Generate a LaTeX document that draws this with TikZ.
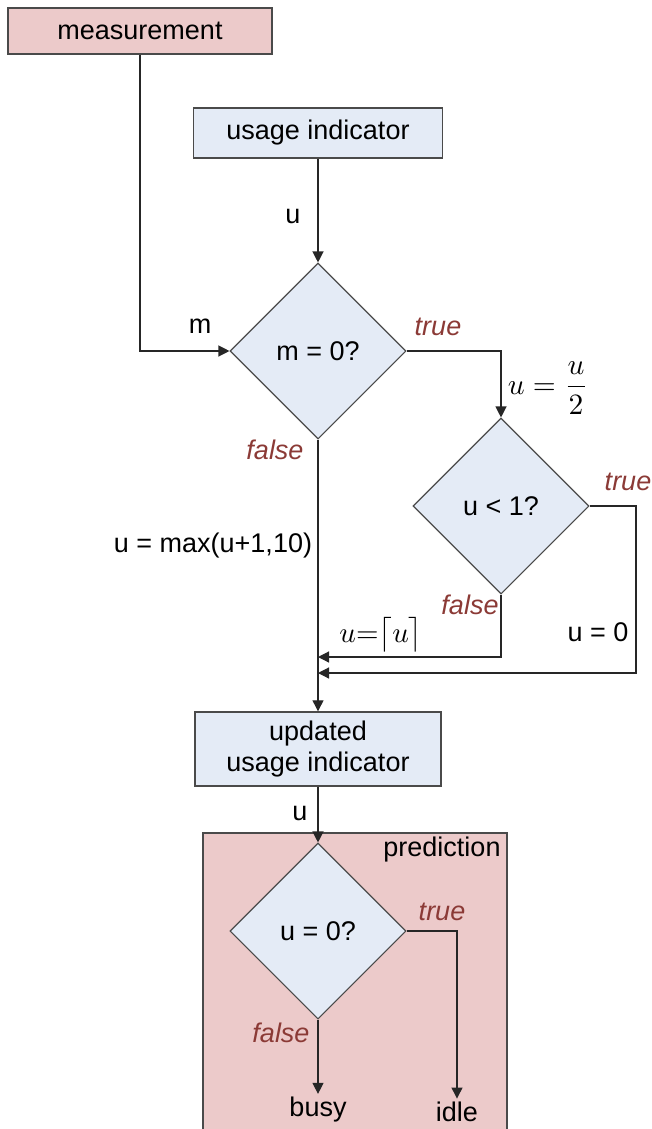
\documentclass[tikz,border=0pt]{standalone}
\usepackage{graphicx}
\usepackage{fontspec}
\setmainfont{Liberation Sans}
\usetikzlibrary{shapes.geometric,arrows.meta}
\definecolor{pinkfill}{HTML}{ECCACA}
\definecolor{bluefill}{HTML}{E4EBF6}
\definecolor{edge}{HTML}{4A4A4A}
\definecolor{lbl}{HTML}{8B3A36}
\begin{document}
\begin{tikzpicture}[x=1pt,y=-1pt,
  font=\fontsize{27}{32}\selectfont,
  box/.style={draw=edge,line width=1.4pt,inner sep=0pt,anchor=center},
  dia/.style={diamond,draw=edge,fill=bluefill,line width=1.1pt,minimum width=176pt,minimum height=176pt,inner sep=0pt},
  conn/.style={draw=black!85,line width=1.2pt},
  arr/.style={conn,-{Triangle[length=11pt,width=11pt]}},
  tf/.style={text=lbl,font=\fontsize{27}{32}\selectfont\itshape},
  mlab/.style={font=\normalsize,inner sep=0pt}]
\useasboundingbox (0,0) rectangle (652,1129);
% prediction region
\fill[pinkfill] (203,833) rectangle (507,1129);
\draw[edge,line width=1.4pt] (203,1129) -- (203,833) -- (507,833) -- (507,1129);
\node[anchor=center] (pred) at (442,850) {prediction};
% boxes
\node[box,fill=pinkfill,minimum width=264pt,minimum height=46pt] (meas) at (140,31) {measurement};
\node[box,fill=bluefill,minimum width=249pt,minimum height=50pt] (usage) at (318,133) {usage indicator};
\node[box,fill=bluefill,minimum width=246pt,minimum height=74pt,align=center] (upd) at (318,749) {updated\\[-1pt]usage indicator};
% diamonds
\node[dia] (d1) at (318,351) {m = 0?};
\node[dia] (d2) at (501,506) {u < 1?};
\node[dia] (d3) at (318,931) {u = 0?};
% terminal texts
\node (busy) at (318,1110) {busy};
\node (idle) at (457,1112) {idle};
% helper coordinates
\coordinate (j1) at (318,657);
\coordinate (j2) at (318,673);
% connectors
\draw[arr] (meas.south) |- (d1.west);
\draw[arr] (usage.south) -- (d1.north);
\draw[arr] (d1.east) -| (d2.north);
\draw[arr] (d2.east) -- (636,506) |- (j2);
\draw[arr] (d2.south) |- (j1);
\draw[arr] (d1.south) -- (upd.north);
\draw[arr] (upd.south) -- (d3.north);
\draw[arr] (d3.south) -- (busy.north);
\draw[arr] (d3.east) -| (idle.north);
% labels
\node (lm) at (200,326) {m};
\node (lu1) at (293,216) {u};
\node[tf] (t1) at (438,327) {true};
\node[tf] (f1) at (275,450) {false};
\node[mlab] (half) at (548,388) {\scalebox{2.95}{$u=\displaystyle\frac{u}{2}$}};
\node[tf] (t2) at (628,482) {true};
\node[tf] (f2) at (470,605) {false};
\node (u0) at (598,632) {u = 0};
\node[mlab] (ceil) at (381,635) {\scalebox{2.9}{$u{=}\bigl\lceil u\bigr\rceil$}};
\node (max) at (213,546) {u = max(u+1,10)};
\node (lu2) at (300,813) {u};
\node[tf] (t3) at (442,912) {true};
\node[tf] (f3) at (281,1033) {false};
\end{tikzpicture}
\end{document}
